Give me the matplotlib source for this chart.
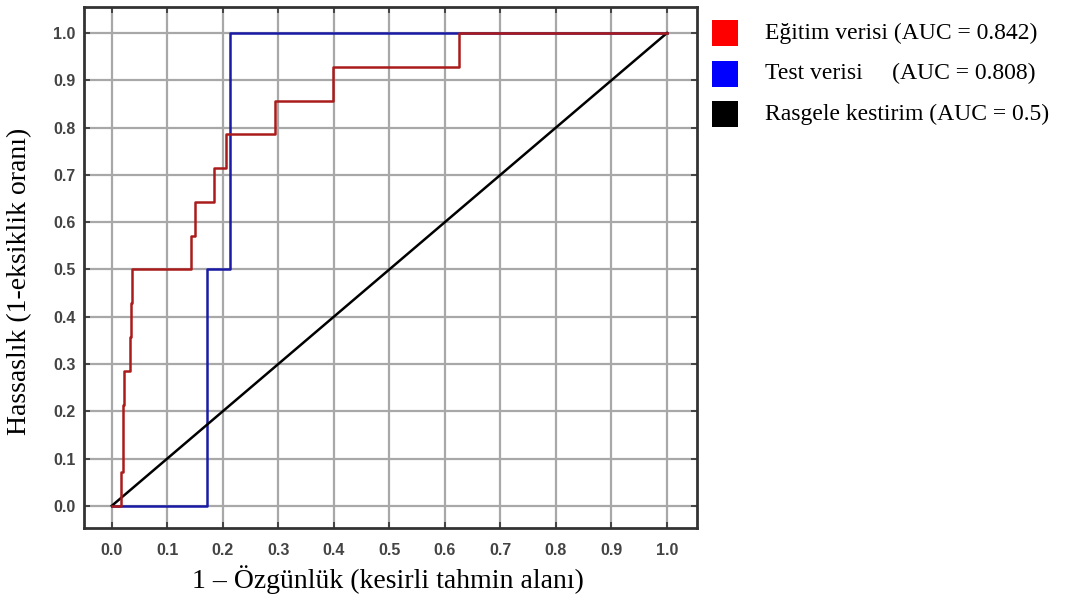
import numpy as np
import matplotlib
matplotlib.use('Agg')
from matplotlib import pyplot as plt
from matplotlib.patches import Rectangle

# ROC steps
train_fpr = [0.0, 0.016, 0.016, 0.02, 0.02, 0.022, 0.022, 0.032, 0.032, 0.034, 0.034, 0.036, 0.036,
             0.04, 0.04, 0.143, 0.143, 0.149, 0.149, 0.184, 0.184, 0.205, 0.205, 0.294, 0.294,
             0.399, 0.399, 0.626, 0.626, 1.0]
train_tpr = [0.0, 0.0, 0.071, 0.071, 0.214, 0.214, 0.286, 0.286, 0.357, 0.357, 0.429, 0.429, 0.5,
             0.5, 0.5, 0.5, 0.571, 0.571, 0.643, 0.643, 0.714, 0.714, 0.786, 0.786, 0.857,
             0.857, 0.929, 0.929, 1.0, 1.0]
test_fpr = [0.0, 0.171, 0.171, 0.2125, 0.2125, 1.0]
test_tpr = [0.0, 0.0, 0.5, 0.5, 1.0, 1.0]
rand_fpr = [0.0, 1.0]
rand_tpr = [0.0, 1.0]

legend_labels = ['Eğitim verisi (AUC = 0.842)', 'Test verisi     (AUC = 0.808)',
                 'Rasgele kestirim (AUC = 0.5)']
legend_colors = ['#ff0000', '#0000ff', '#000000']
ticks = np.round(np.arange(0, 1.01, 0.1), 1)

fig = plt.figure(figsize=(10.68, 6.02), dpi=100)
ax = fig.add_axes([0.0787, 0.1229, 0.5739, 0.8655])

ax.plot(test_fpr, test_tpr, color='#1a1aa6', lw=1.8, zorder=3)
ax.plot(train_fpr, train_tpr, color='#aa1c1c', lw=1.8, zorder=4)
ax.plot(rand_fpr, rand_tpr, color='#000000', lw=1.8, zorder=3)

ax.set_xlim(-0.05, 1.054)
ax.set_ylim(-0.047, 1.055)
ax.set_xticks(ticks)
ax.set_yticks(ticks)
ax.set_xticklabels(['%.1f' % t for t in ticks])
ax.set_yticklabels(['%.1f' % t for t in ticks])
ax.grid(True, color='#a8a8a8', lw=1.6, zorder=1)
ax.tick_params(direction='in', length=4, width=1.2, color='#333333',
               top=True, right=True, labelcolor='#444444')
ax.tick_params(axis='x', pad=11)
ax.tick_params(axis='y', pad=6)
for lbl in ax.get_xticklabels() + ax.get_yticklabels():
    lbl.set_family(['Liberation Sans', 'DejaVu Sans'])
    lbl.set_fontweight('bold')
    lbl.set_fontsize(11.5)
for s in ax.spines.values():
    s.set_color('#333333')
    s.set_linewidth(2)

# axis titles placed by their centres
fig.text(388 / 1068, 1 - 580 / 602, '1 – Özgünlük (kesirli tahmin alanı)',
         family='Liberation Serif', fontsize=20, ha='center', va='center')
fig.text(20 / 1068, 1 - 281 / 602, 'Hassaslık (1-eksiklik oranı)',
         family='Liberation Serif', fontsize=20, ha='center', va='center', rotation=90)

# legend with square markers, outside the axes
for i, (lab, c) in enumerate(zip(legend_labels, legend_colors)):
    yc = 1 - (33 + 40.5 * i) / 602
    fig.add_artist(Rectangle((712 / 1068, yc - 13 / 602), 26 / 1068, 26 / 602,
                             facecolor=c, edgecolor='none', transform=fig.transFigure))
    fig.text(765 / 1068, yc, lab, family='Liberation Serif', fontsize=17, va='center', ha='left')

fig.savefig('out.png', dpi=100)
